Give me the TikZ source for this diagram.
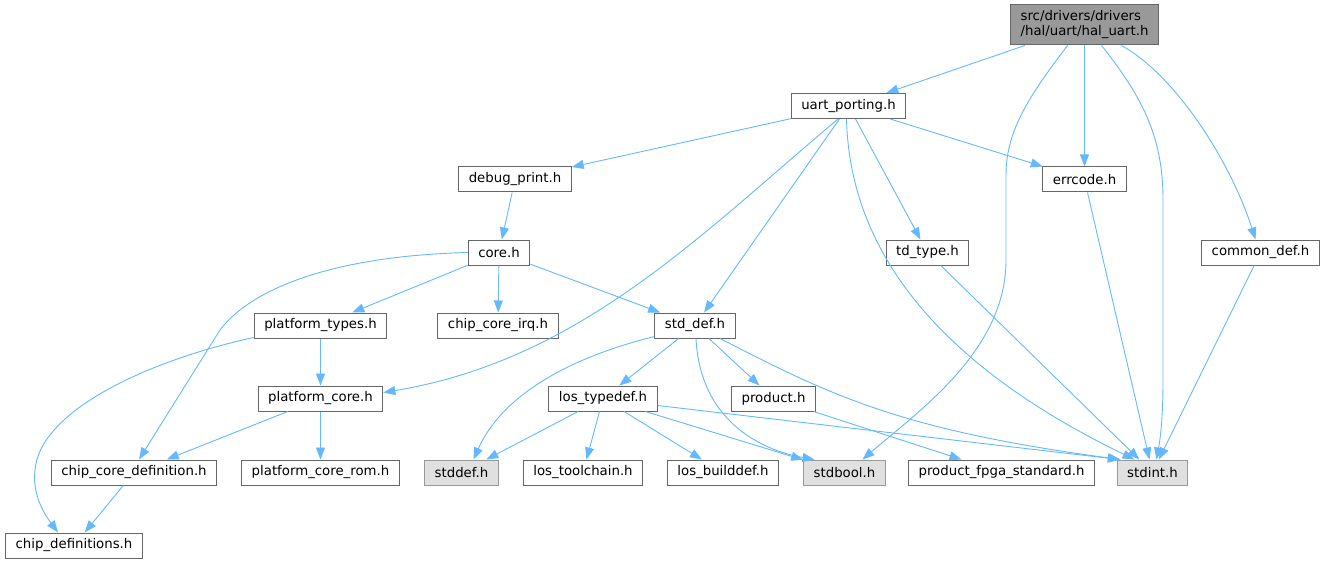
\documentclass[tikz,border=0pt]{standalone}
\usepackage{fontspec}
\setmainfont{DejaVu Sans}
\usetikzlibrary{arrows.meta}
\definecolor{edgeblue}{HTML}{63B8FF}
\definecolor{boxline}{HTML}{666666}
\definecolor{rootfill}{HTML}{999999}
\definecolor{sysfill}{HTML}{E0E0E0}
\begin{document}
\begin{tikzpicture}[x=1pt,y=-1pt,
    file/.style={draw=boxline,fill=white,line width=1pt,font=\fontsize{13.3}{15}\selectfont,
      minimum height=25pt,inner xsep=10pt,inner ysep=2pt},
    rootfile/.style={file,fill=rootfill,align=left,minimum height=40pt},
    sysfile/.style={file,draw=rootfill,fill=sysfill},
    dep/.style={draw=edgeblue,line width=0.9pt,-{Triangle[length=12pt,width=9pt]}}]
  \useasboundingbox (0,0) rectangle (1325,564);
  \draw
    (1084.5,25) node[rootfile] (hal){src/drivers/drivers\\/hal/uart/hal\_uart.h}
    (848.5,106) node[file] (uart){uart\_porting.h}
    (515,179.5) node[file] (debug){debug\_print.h}
    (1084.5,179.5) node[file] (errcode){errcode.h}
    (499,252.5) node[file] (core){core.h}
    (927.5,252.5) node[file] (tdtype){td\_type.h}
    (1260.5,252.5) node[file] (commondef){common\_def.h}
    (320.5,325.5) node[file] (ptypes){platform\_types.h}
    (498,325.5) node[file] (irq){chip\_core\_irq.h}
    (695,325.5) node[file] (stddefh){std\_def.h}
    (320.5,398.5) node[file] (pcore){platform\_core.h}
    (603,398.5) node[file] (lostypedef){los\_typedef.h}
    (773.5,398.5) node[file] (product){product.h}
    (134,472.5) node[file] (ccdef){chip\_core\_definition.h}
    (320.5,472.5) node[file] (pcrom){platform\_core\_rom.h}
    (461.5,472.5) node[sysfile] (stddef){stddef.h}
    (583,472.5) node[file] (toolchain){los\_toolchain.h}
    (723,472.5) node[file] (builddef){los\_builddef.h}
    (844.5,472.5) node[sysfile] (stdbool){stdbool.h}
    (1001.5,472.5) node[file] (fpga){product\_fpga\_standard.h}
    (1152.5,472.5) node[sysfile] (stdint){stdint.h}
    (74,545.5) node[file] (chipdefs){chip\_definitions.h};
  \begin{scope}[dep]
    \draw (hal) to (uart);
    \draw ([xshift=-17pt]hal.south) .. controls (1030,95) and (1006,130) .. (1006,175)
      -- (1006,260) .. controls (1006,350) and (920,410) .. ([xshift=18pt]stdbool.north);
    \draw (hal) to (errcode);
    \draw ([xshift=17pt]hal.south) .. controls (1145,100) and (1163,140) .. (1163,200)
      -- (1163,380) .. controls (1163,420) and (1160,440) .. ([xshift=4pt]stdint.north);
    \draw ([xshift=37pt]hal.south) .. controls (1175,75) and (1230,160) .. ([xshift=-5pt]commondef.north);
    \draw (uart) to (debug);
    \draw (uart) to (errcode);
    \draw ([xshift=-10.5pt]uart.south) .. controls (700,235) and (580,360) .. ([yshift=6pt]pcore.east);
    \draw (uart) to (stddefh);
    \draw (uart) to (tdtype);
    \draw ([xshift=-2pt]uart.south) .. controls (850,260) and (950,370) .. ([xshift=-18pt]stdint.north);
    \draw (debug) to (core);
    \draw (core.west) .. controls (330,256) and (250,290) .. (220,330) -- ([xshift=5pt]ccdef.north);
    \draw (core) to (ptypes);
    \draw (core) to (irq);
    \draw (core) to (stddefh);
    \draw (ptypes) to (pcore);
    \draw ([yshift=-12pt]ptypes.west) .. controls (150,360) and (40,410) .. (35,470)
      .. controls (32,495) and (45,515) .. ([xshift=-16pt]chipdefs.north);
    \draw (pcore) to (ccdef);
    \draw (pcore) to (pcrom);
    \draw (ccdef) to (chipdefs);
    \draw ([yshift=-11pt]stddefh.west) .. controls (560,360) and (500,400) .. ([xshift=12pt]stddef.north);
    \draw (stddefh) to (lostypedef);
    \draw ([xshift=1pt]stddefh.south) .. controls (700,420) and (760,450) .. ([xshift=-30pt]stdbool.north);
    \draw (stddefh) to (product);
    \draw ([xshift=25pt]stddefh.south) .. controls (830,395) and (900,430) .. ([xshift=-32pt]stdint.north);
    \draw (lostypedef) to (stddef);
    \draw (lostypedef) to (toolchain);
    \draw (lostypedef) to (builddef);
    \draw (lostypedef) to (stdbool);
    \draw ([yshift=-7pt]lostypedef.east) to ([xshift=3pt]stdint.north west);
    \draw (product) to (fpga);
    \draw (tdtype) to (stdint);
    \draw (errcode) to (stdint);
    \draw (commondef) to (stdint);
  \end{scope}
\end{tikzpicture}
\end{document}
